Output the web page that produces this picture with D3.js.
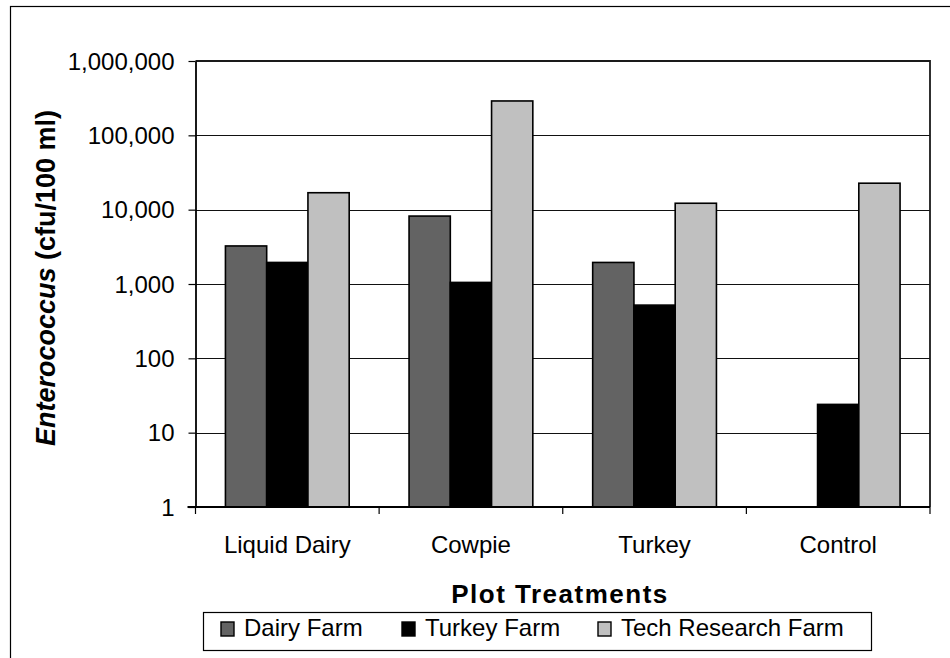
<!DOCTYPE html>
<html>
<head>
<meta charset="utf-8">
<script src="https://cdn.jsdelivr.net/npm/d3@7"></script>
<style>
  html, body { margin: 0; padding: 0; background: #fff; }
  svg { display: block; font-family: "Liberation Sans", Arial, sans-serif; }
</style>
</head>
<body>
<svg id="chart" width="950" height="658"></svg>
<script>
// Enterococcus counts per plot treatment, by manure source farm
const categories = ["Liquid Dairy", "Cowpie", "Turkey", "Control"];
const seriesNames = ["Dairy Farm", "Turkey Farm", "Tech Research Farm"];
const dairyFarm = [3250, 8200, 1950, null];
const turkeyFarm = [1950, 1050, 520, 24];
const techResearchFarm = [16900, 290000, 12200, 22700];
const yTicks = [1, 10, 100, 1000, 10000, 100000, 1000000];
const seriesColors = ["#636363", "#000000", "#c0c0c0"];

const seriesValues = [dairyFarm, turkeyFarm, techResearchFarm];

const svg = d3.select("#chart");
const plot = { left: 195.5, top: 61, right: 930, bottom: 507 };

// outer chart frame (extends past the right/bottom edge of the canvas)
svg.append("rect")
  .attr("x", 10.5).attr("y", 6.5)
  .attr("width", 960).attr("height", 680)
  .attr("fill", "#fff").attr("stroke", "#000").attr("stroke-width", 1.2);

const x0 = d3.scaleBand()
  .domain(categories)
  .range([plot.left, plot.right])
  .paddingInner(0).paddingOuter(0);

const groupPad = x0.bandwidth() * 0.163;
const x1 = d3.scaleBand()
  .domain(seriesNames)
  .range([groupPad, x0.bandwidth() - groupPad])
  .padding(0);

const y = d3.scaleLog()
  .domain([1, 1000000])
  .range([plot.bottom, plot.top]);

// horizontal gridlines
svg.append("g")
  .selectAll("line")
  .data(yTicks.slice(1, -1))
  .join("line")
  .attr("x1", plot.left).attr("x2", plot.right)
  .attr("y1", d => Math.round(y(d)) + 0.5)
  .attr("y2", d => Math.round(y(d)) + 0.5)
  .attr("stroke", "#111").attr("stroke-width", 1);

// bars
const rows = [];
categories.forEach((c, i) => {
  seriesNames.forEach((s, j) => {
    const v = seriesValues[j][i];
    if (v != null && v > 0) rows.push({ cat: c, series: s, value: v, color: seriesColors[j] });
  });
});

svg.append("g")
  .selectAll("rect")
  .data(rows)
  .join("rect")
  .attr("x", d => x0(d.cat) + x1(d.series))
  .attr("y", d => y(d.value))
  .attr("width", x1.bandwidth())
  .attr("height", d => y(1) - y(d.value))
  .attr("fill", d => d.color)
  .attr("stroke", "#000")
  .attr("stroke-width", 1.6);

// plot frame: top and right
svg.append("path")
  .attr("d", `M${plot.left},${plot.top}H${plot.right}V${plot.bottom}`)
  .attr("fill", "none").attr("stroke", "#1a1a1a").attr("stroke-width", 1.8);

// y axis
const yAxis = d3.axisLeft(y)
  .tickValues(yTicks)
  .tickFormat(d3.format(","))
  .tickSizeInner(7).tickSizeOuter(0)
  .tickPadding(14);

const gy = svg.append("g")
  .attr("transform", `translate(${plot.left},0)`)
  .call(yAxis);
gy.select(".domain").attr("stroke", "#000").attr("stroke-width", 1.8);
gy.selectAll(".tick line").attr("stroke", "#000").attr("stroke-width", 1.2);
gy.selectAll(".tick text")
  .attr("font-size", 24).attr("fill", "#000")
  .attr("font-family", "'Liberation Sans', Arial, sans-serif")
  .attr("dy", "0.34em");

// x axis: category boundary ticks
const xBounds = categories.map(c => x0(c)).concat([plot.right]);
svg.append("line")
  .attr("x1", plot.left - 8).attr("x2", plot.right)
  .attr("y1", plot.bottom).attr("y2", plot.bottom)
  .attr("stroke", "#000").attr("stroke-width", 1.8);
svg.append("g")
  .selectAll("line")
  .data(xBounds)
  .join("line")
  .attr("x1", d => d).attr("x2", d => d)
  .attr("y1", plot.bottom).attr("y2", plot.bottom + 7)
  .attr("stroke", "#000").attr("stroke-width", 1.2);

svg.append("g")
  .selectAll("text")
  .data(categories)
  .join("text")
  .attr("x", d => x0(d) + x0.bandwidth() / 2)
  .attr("y", 553)
  .attr("text-anchor", "middle")
  .attr("font-size", 24)
  .text(d => d);

// axis titles
svg.append("text")
  .attr("x", 560).attr("y", 603)
  .attr("text-anchor", "middle")
  .attr("font-size", 26).attr("font-weight", "bold")
  .attr("letter-spacing", 1.5)
  .text("Plot Treatments");

const yt = svg.append("text")
  .attr("transform", "translate(55,278) rotate(-90)")
  .attr("text-anchor", "middle")
  .attr("font-size", 27).attr("font-weight", "bold");
yt.append("tspan").attr("font-style", "italic").text("Enterococcus");
yt.append("tspan").text(" (cfu/100 ml)");

// legend
const legend = svg.append("g");
legend.append("rect")
  .attr("x", 203.5).attr("y", 612.5)
  .attr("width", 668).attr("height", 38)
  .attr("fill", "#fff").attr("stroke", "#000").attr("stroke-width", 1.2);

const legendX = [221, 402, 598];
const items = legend.selectAll("g.item")
  .data(seriesNames)
  .join("g")
  .attr("class", "item")
  .attr("transform", (d, i) => `translate(${legendX[i]},0)`);
items.append("rect")
  .attr("x", 0).attr("y", 622)
  .attr("width", 13).attr("height", 14)
  .attr("fill", (d, i) => seriesColors[i])
  .attr("stroke", "#000").attr("stroke-width", 1.4);
items.append("text")
  .attr("x", 23).attr("y", 636)
  .attr("font-size", 24)
  .text(d => d);
</script>
</body>
</html>
